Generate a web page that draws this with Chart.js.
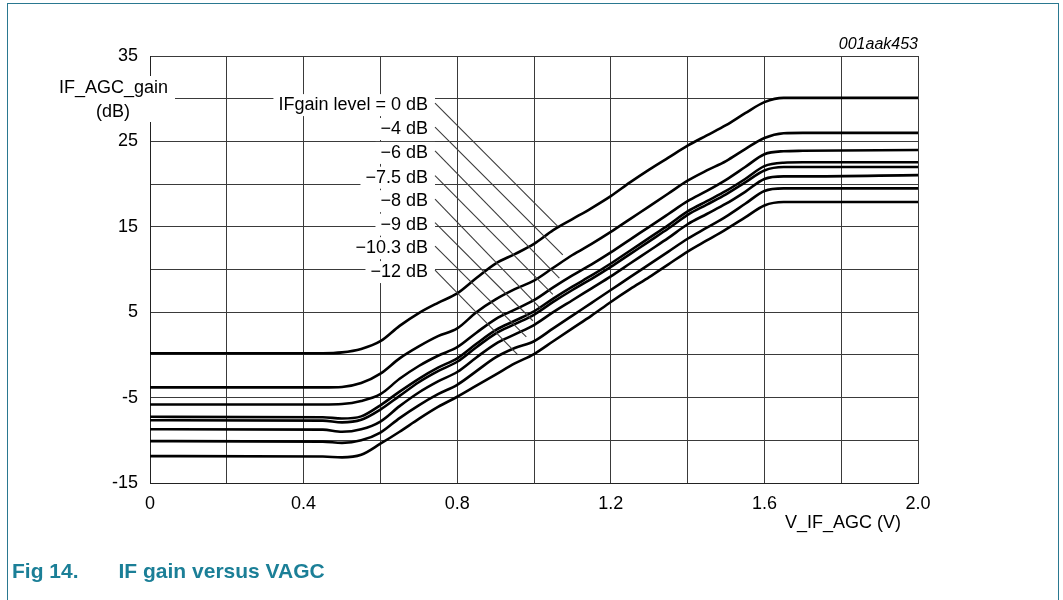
<!DOCTYPE html>
<html>
<head>
<meta charset="utf-8">
<script src="https://cdn.jsdelivr.net/npm/chart.js@4.4.1/dist/chart.umd.min.js"></script>
<style>
  html, body { margin: 0; padding: 0; background: #fff; }
  #wrap { position: relative; width: 1063px; height: 600px; overflow: hidden; }
  #frame { position: absolute; left: 7px; top: 3px; width: 1050px; height: 660px; border: 1.5px solid #2a7890; pointer-events: none; }
  #caption { position: absolute; left: 12px; top: 559px; font: bold 21px "Liberation Sans", Arial, sans-serif; color: #1b7f97; white-space: nowrap; }
  #caption span + span { margin-left: 40px; }
  canvas { position: absolute; left: 0; top: 0; }
</style>
</head>
<body>
<div id="wrap">
  <canvas id="c" width="1063" height="600"></canvas>
  <div id="frame"></div>
  <div id="caption"><span>Fig 14.</span><span>IF gain versus VAGC</span></div>
</div>
<script>
// V_IF_AGC (V)
var vagc = [0, 0.45, 0.5, 0.55, 0.6, 0.65, 0.7, 0.75, 0.8, 0.85, 0.9, 0.95, 1.0, 1.05, 1.1, 1.15, 1.2, 1.25, 1.3, 1.35, 1.4, 1.45, 1.5, 1.55, 1.6, 1.65, 1.7, 2.0];

// IF_AGC_gain (dB) per IFgain level
var gain0 = [0.2, 0.2, 0.3, 0.7, 1.6, 3.4, 4.9, 6.1, 7.2, 9.0, 10.7, 11.8, 13.0, 14.6, 15.9, 17.2, 18.6, 20.2, 21.7, 23.1, 24.5, 25.7, 26.9, 28.3, 29.6, 30.1, 30.1, 30.1];
var gain4 = [-3.8, -3.8, -3.75, -3.3, -2.2, -0.4, 1.0, 2.2, 3.1, 5.0, 6.5, 7.7, 8.7, 10.2, 11.7, 13.0, 14.4, 15.9, 17.4, 18.9, 20.4, 21.6, 22.7, 24.1, 25.4, 25.95, 26.0, 26.0];
var gain6 = [-5.8, -5.8, -5.75, -5.4, -4.6, -2.8, -1.3, -0.1, 0.9, 2.6, 4.2, 5.3, 6.4, 7.9, 9.3, 10.6, 12.0, 13.5, 15.0, 16.5, 18.0, 19.2, 20.5, 22.0, 23.5, 23.85, 23.9, 24.0];
var gain75 = [-7.25, -7.3, -7.45, -7.2, -5.9, -4.3, -2.8, -1.5, -0.4, 1.3, 2.9, 4.0, 5.1, 6.6, 8.0, 9.3, 10.7, 12.2, 13.7, 15.2, 16.8, 18.0, 19.2, 20.6, 22.1, 22.5, 22.55, 22.55];
var gain8 = [-7.65, -7.7, -7.9, -7.6, -6.4, -4.8, -3.2, -1.9, -0.8, 0.9, 2.5, 3.6, 4.7, 6.2, 7.6, 8.9, 10.3, 11.8, 13.3, 14.8, 16.4, 17.6, 18.8, 20.2, 21.6, 22.0, 22.0, 22.0];
var gain9 = [-8.7, -8.75, -9.0, -8.7, -7.8, -6.0, -4.4, -3.1, -2.0, -0.3, 1.3, 2.4, 3.5, 5.0, 6.4, 7.8, 9.2, 10.7, 12.2, 13.7, 15.3, 16.5, 17.7, 19.1, 20.6, 20.9, 20.9, 21.05];
var gain103 = [-10.1, -10.15, -10.3, -10.0, -9.1, -7.4, -5.9, -4.6, -3.5, -1.9, -0.3, 0.8, 1.6, 3.1, 4.6, 6.1, 7.6, 9.1, 10.6, 12.1, 13.6, 14.9, 16.2, 17.7, 19.2, 19.5, 19.5, 19.5];
var gain12 = [-11.85, -11.9, -12.0, -11.7, -10.4, -9.0, -7.5, -6.1, -4.9, -3.6, -2.3, -1.0, 0.1, 1.6, 3.1, 4.6, 6.2, 7.7, 9.1, 10.6, 12.1, 13.4, 14.7, 16.1, 17.5, 17.9, 17.9, 17.9];

var series = [gain0, gain4, gain6, gain75, gain8, gain9, gain103, gain12];

// curve labels with leader lines (data units)
var levelLabels = ['IFgain level = 0 dB', '\u22124 dB', '\u22126 dB', '\u22127.5 dB', '\u22128 dB', '\u22129 dB', '\u221210.3 dB', '\u221212 dB'];
var labelRightX = 0.724;
var labelY = [29.25, 26.45, 23.65, 20.75, 18.0, 15.25, 12.5, 9.7];
var leaderEndX = [1.062, 1.075, 1.066, 1.049, 1.018, 0.997, 0.98, 0.958];
var leaderEndY = [15.05, 11.7, 9.0, 7.1, 5.4, 4.0, 2.1, 0.0];

// axis ticks
var xTickLabels = ['0', '0.4', '0.8', '1.2', '1.6', '2.0'];
var yTickLabels = ['-15', '-5', '5', '15', '25', '35'];

var FONT = '"Liberation Sans", Arial, Helvetica, sans-serif';

var annotations = {
    id: 'annotations',
    beforeDatasetsDraw: function (chart) {
        var ctx = chart.ctx;
        var xs = chart.scales.x, ys = chart.scales.y;
        var area = chart.chartArea;
        ctx.save();
        ctx.fillStyle = '#fff';
        // box behind the y axis title
        ctx.fillRect(50, 76, area.left + 25 - 50, 46);
        ctx.font = '18px ' + FONT;
        levelLabels.forEach(function (t, i) {
            var w = ctx.measureText(t).width;
            var px = xs.getPixelForValue(labelRightX);
            var py = ys.getPixelForValue(labelY[i]);
            ctx.fillRect(px - w - 5, py - 11, w + 12, 22);
        });
        ctx.restore();
    },
    afterDatasetsDraw: function (chart) {
        var ctx = chart.ctx;
        var xs = chart.scales.x, ys = chart.scales.y;
        var area = chart.chartArea;
        ctx.save();
        ctx.fillStyle = '#000';
        ctx.font = '18px ' + FONT;
        ctx.textBaseline = 'middle';

        // y axis title
        ctx.textAlign = 'right';
        ctx.fillText('IF_AGC_gain', area.left + 18, 88);
        ctx.textAlign = 'center';
        ctx.fillText('(dB)', area.left - 37, 112);

        // x axis title
        ctx.textAlign = 'right';
        ctx.fillText('V_IF_AGC (V)', area.right - 17, 523);

        // curve labels and leaders
        ctx.strokeStyle = '#3c3c3c';
        ctx.lineWidth = 1.1;
        levelLabels.forEach(function (t, i) {
            var px = xs.getPixelForValue(labelRightX);
            var py = ys.getPixelForValue(labelY[i]);
            ctx.fillText(t, px, py);
            ctx.beginPath();
            ctx.moveTo(px + 7, py - 2);
            ctx.lineTo(xs.getPixelForValue(leaderEndX[i]), ys.getPixelForValue(leaderEndY[i]));
            ctx.stroke();
        });

        // drawing number
        ctx.font = 'italic 16px ' + FONT;
        ctx.fillText('001aak453', area.right, 45);
        ctx.restore();
    }
};

var ctx = document.getElementById('c').getContext('2d');
new Chart(ctx, {
    type: 'line',
    data: {
        datasets: series.map(function (s, i) {
            return {
                label: levelLabels[i],
                data: vagc.map(function (v, j) { return { x: v, y: s[j] }; }),
                borderColor: '#000',
                borderWidth: 2.6,
                pointRadius: 0,
                fill: false,
                cubicInterpolationMode: 'monotone'
            };
        })
    },
    options: {
        responsive: false,
        animation: false,
        devicePixelRatio: 1,
        layout: { padding: { left: 0, top: 56, right: 145, bottom: 0 } },
        plugins: {
            legend: { display: false },
            tooltip: { enabled: false }
        },
        scales: {
            x: {
                type: 'linear',
                min: 0,
                max: 2,
                afterFit: function (scale) { scale.height = 117; },
                grid: { color: '#3a3a3a', lineWidth: 1, drawTicks: false },
                border: { color: '#222', width: 1 },
                ticks: {
                    stepSize: 0.2,
                    autoSkip: false,
                    maxRotation: 0,
                    padding: 10,
                    color: '#000',
                    font: { family: FONT, size: 18 },
                    callback: function (v) {
                        var k = Math.round(v * 5);
                        return k % 2 === 0 ? xTickLabels[k / 2] : '';
                    }
                }
            },
            y: {
                min: -15,
                max: 35,
                afterFit: function (scale) { scale.width = 150; },
                grid: { color: '#3a3a3a', lineWidth: 1, drawTicks: false },
                border: { color: '#222', width: 1 },
                ticks: {
                    stepSize: 5,
                    autoSkip: false,
                    padding: 12,
                    color: '#000',
                    font: { family: FONT, size: 18 },
                    callback: function (v) {
                        var k = Math.round((v + 15) / 5);
                        return k % 2 === 0 ? yTickLabels[k / 2] : '';
                    }
                }
            }
        }
    },
    plugins: [annotations]
});
</script>
</body>
</html>
